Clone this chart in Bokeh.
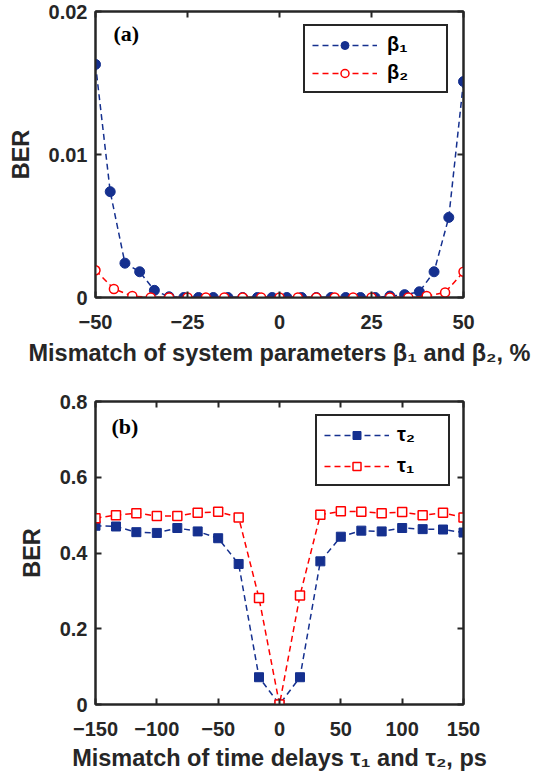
from bokeh.plotting import figure
from bokeh.models import LinearAxis, Range1d, Legend, LegendItem, Label, FixedTicker
from bokeh.layouts import column
from bokeh.embed import file_html
from bokeh.resources import INLINE

# ---------------- data: panel (a) ----------------
beta1_x = [-50, -46, -42, -38, -34, -30, -26, -22, -18, -14, -10, -6, -2,
           2, 6, 10, 14, 18, 22, 26, 30, 34, 38, 42, 46, 50]
beta1_ber = [0.0163, 0.0074, 0.0024, 0.0018, 0.0005, 0.00005, 0, 0, 0, 0, 0, 0, 0,
             0, 0, 0, 0, 0, 0, 0, 0.0001, 0.0002, 0.0004, 0.0018, 0.0056, 0.0151]
beta2_x = [-50, -45, -40, -35, -30, -25, -20, -15, -10, -5, 0,
           5, 10, 15, 20, 25, 30, 35, 40, 45, 50]
beta2_ber = [0.0019, 0.0006, 0.0001, 0, 0, 0, 0, 0, 0, 0, 0,
             0, 0, 0, 0, 0, 0, 0, 0.0001, 0.00035, 0.0018]
a_xticks = [-50, -25, 0, 25, 50]
a_yticks = [0, 0.01, 0.02]
a_ytick_labels = {0: "0", 0.01: "0.01", 0.02: "0.02"}

# ---------------- data: panel (b) ----------------
tau_x = [-150, -133.3, -116.7, -100, -83.3, -66.7, -50, -33.3, -16.7, 0,
         16.7, 33.3, 50, 66.7, 83.3, 100, 116.7, 133.3, 150]
tau2_ber = [0.472, 0.470, 0.455, 0.453, 0.466, 0.457, 0.439, 0.371, 0.072, 0.0,
            0.072, 0.378, 0.443, 0.459, 0.457, 0.466, 0.463, 0.462, 0.454]
tau1_ber = [0.492, 0.500, 0.505, 0.498, 0.498, 0.506, 0.509, 0.494, 0.281, 0.0,
            0.288, 0.501, 0.510, 0.509, 0.505, 0.508, 0.500, 0.506, 0.494]
b_xticks = [-150, -100, -50, 0, 50, 100, 150]
b_yticks = [0, 0.2, 0.4, 0.6, 0.8]
b_ytick_labels = {0: "0", 0.2: "0.2", 0.4: "0.4", 0.6: "0.6", 0.8: "0.8"}

BLUE = "#15308f"
RED = "#ff0000"
AX = "#262626"
FONT = "Liberation Sans"


def style_axes(p, xticks, yticks, ylabels, xlabel, label_standoff):
    p.xaxis.ticker = FixedTicker(ticks=xticks)
    p.yaxis.ticker = FixedTicker(ticks=yticks)
    p.yaxis.major_label_overrides = ylabels
    for ax in (p.xaxis[0], p.yaxis[0]):
        ax.axis_line_color = AX
        ax.axis_line_width = 2
        ax.major_tick_in = 6
        ax.major_tick_out = 0
        ax.major_tick_line_color = AX
        ax.major_tick_line_width = 2
        ax.minor_tick_line_color = None
        ax.major_label_text_font = FONT
        ax.major_label_text_font_style = "bold"
        ax.major_label_text_font_size = "20px"
        ax.major_label_text_color = AX
        ax.axis_label_text_font = FONT
        ax.axis_label_text_font_style = "bold"
        ax.axis_label_text_font_size = "23.5px"
        ax.axis_label_text_color = AX
    p.xaxis.axis_label = xlabel
    p.yaxis.axis_label = "BER"
    p.xaxis.major_label_standoff = 17
    p.xaxis.axis_label_standoff = label_standoff
    p.yaxis.major_label_standoff = 8
    p.yaxis.axis_label_standoff = 12
    # mirrored ticks on top and right (no labels)
    top = LinearAxis(ticker=FixedTicker(ticks=xticks), major_label_text_color=None,
                     major_tick_in=6, major_tick_out=0, major_tick_line_width=2,
                     major_tick_line_color=AX, minor_tick_line_color=None,
                     axis_line_color=AX, axis_line_width=2, major_label_standoff=0)
    right = LinearAxis(ticker=FixedTicker(ticks=yticks), major_label_text_color=None,
                       major_tick_in=6, major_tick_out=0, major_tick_line_width=2,
                       major_tick_line_color=AX, minor_tick_line_color=None,
                       axis_line_color=AX, axis_line_width=2, major_label_standoff=0)
    p.add_layout(top, "above")
    p.add_layout(right, "right")
    p.xgrid.grid_line_color = None
    p.ygrid.grid_line_color = None
    p.outline_line_color = AX
    p.outline_line_width = 2


def make_legend(items, loc, glyph_width, standoff, label_width, spacing):
    return Legend(items=items, location=loc, padding=7, spacing=spacing, margin=0,
                  glyph_width=glyph_width, glyph_height=20, label_standoff=standoff,
                  label_width=label_width,
                  label_text_font=FONT, label_text_font_style="bold",
                  label_text_font_size="20px", label_text_color="black",
                  border_line_color=AX, border_line_width=2, border_line_alpha=1,
                  background_fill_color="white", background_fill_alpha=1)


# ---------------- panel (a) ----------------
pa = figure(width=551, height=380, output_backend="svg", toolbar_location=None,
            x_range=Range1d(-50, 50), y_range=Range1d(0, 0.02),
            min_border_left=95, min_border_right=88, min_border_top=11, min_border_bottom=83)
style_axes(pa, a_xticks, a_yticks, a_ytick_labels,
           "Mismatch of system parameters β\u2081 and β\u2082, %", 8)

la1 = pa.line(beta1_x, beta1_ber, line_color=BLUE, line_width=1.5, line_dash="6 4")
sa1 = pa.scatter(beta1_x, beta1_ber, marker="circle", size=10, fill_color=BLUE, line_color=BLUE)
la2 = pa.line(beta2_x, beta2_ber, line_color=RED, line_width=1.5, line_dash="6 4")
sa2 = pa.scatter(beta2_x, beta2_ber, marker="circle", size=9, fill_color="white",
                 line_color=RED, line_width=1.5)

lega = make_legend([LegendItem(label="β\u2081", renderers=[la1, sa1]),
                    LegendItem(label="β\u2082", renderers=[la2, sa2])],
                   (208, 204), 65, 10, 52, 5)
pa.add_layout(lega)
pa.add_layout(Label(x=18, y=252, x_units="screen", y_units="screen", text="(a)",
                    text_font="Liberation Serif", text_font_style="bold",
                    text_font_size="22px", text_color="black"))

# ---------------- panel (b) ----------------
pb = figure(width=551, height=400, output_backend="svg", toolbar_location=None,
            x_range=Range1d(-150, 150), y_range=Range1d(0, 0.8),
            min_border_left=93, min_border_right=88, min_border_top=21, min_border_bottom=76)
style_axes(pb, b_xticks, b_yticks, b_ytick_labels,
           "Mismatch of time delays τ\u2081 and τ\u2082, ps", 6)

lb2 = pb.line(tau_x, tau2_ber, line_color=BLUE, line_width=1.5, line_dash="6 4")
sb2 = pb.scatter(tau_x, tau2_ber, marker="square", size=9, fill_color=BLUE, line_color=BLUE)
lb1 = pb.line(tau_x, tau1_ber, line_color=RED, line_width=1.5, line_dash="6 4")
sb1 = pb.scatter(tau_x, tau1_ber, marker="square", size=9, fill_color="white",
                 line_color=RED, line_width=1.5)

legb = make_legend([LegendItem(label="τ\u2082", renderers=[lb2, sb2]),
                    LegendItem(label="τ\u2081", renderers=[lb1, sb1])],
                   (220, 218), 65, 8, 44, 8)
pb.add_layout(legb)
pb.add_layout(Label(x=16, y=266, x_units="screen", y_units="screen", text="(b)",
                    text_font="Liberation Serif", text_font_style="bold",
                    text_font_size="22px", text_color="black"))

layout = column(pa, pb, spacing=0)
open("out.html", "w").write(file_html(layout, INLINE))
